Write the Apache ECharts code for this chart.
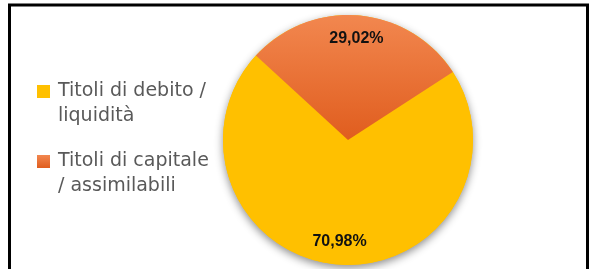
<!DOCTYPE html>
<html lang="it">
<head>
    <meta charset="UTF-8">
    <title>Composizione portafoglio</title>
    <script src="https://cdn.jsdelivr.net/npm/echarts@6/dist/echarts.min.js"></script>
    <style>
        html, body { margin: 0; padding: 0; background: #fff; }
    </style>
</head>
<body>
<div id="main" style="width: 589px;height:269px;"></div>
<script>
    // categorie e percentuali
    var categories = ['Titoli di debito /\nliquidità', 'Titoli di capitale\n/ assimilabili'];
    var values = [70.98, 29.02];
    var colors = ['#FFC000', '#EC7335'];

    var pieCenter = [348, 140];
    var pieR = 125;

    var data = categories.map(function (name, i) {
        return {name: name, value: values[i]};
    });
    var total = values.reduce(function (a, b) { return a + b; }, 0);

    var myChart = echarts.init(document.getElementById('main'));

    option = {
        animation: false,
        legend: {
            orient: 'vertical',
            left: 37,
            top: 54,
            padding: 0,
            icon: 'rect',
            itemWidth: 13,
            itemHeight: 13,
            itemGap: -5,
            selectedMode: false,
            data: categories,
            // riga vuota davanti così il quadratino resta sulla prima riga
            formatter: function (name) {
                return '{e| }\n' + name.split('\n').map(function (s) {
                    return '{t|' + s + '}';
                }).join('\n');
            },
            textStyle: {
                fontFamily: 'DejaVu Sans',
                fontSize: 19,
                color: '#595959',
                lineHeight: 25,
                padding: [0, 0, 0, 3],
                rich: {
                    e: {fontSize: 19, lineHeight: 25},
                    t: {
                        fontFamily: 'DejaVu Sans',
                        fontSize: 19,
                        color: '#595959',
                        lineHeight: 25
                    }
                }
            }
        },
        graphic: [{
            type: 'rect',
            shape: {x: 9.5, y: 5, width: 578, height: 300},
            style: {fill: null, stroke: '#000', lineWidth: 3},
            silent: true
        }],
        series: [
            {
                // ombra sotto la torta
                type: 'pie',
                silent: true,
                center: pieCenter,
                radius: [0, pieR],
                label: {show: false},
                labelLine: {show: false},
                itemStyle: {
                    color: '#FFC000',
                    shadowBlur: 8,
                    shadowOffsetY: 3,
                    shadowColor: 'rgba(0,0,0,0.45)'
                },
                data: [{name: 'ombra', value: total}]
            },
            {
                type: 'pie',
                silent: true,
                center: pieCenter,
                radius: [0, pieR],
                startAngle: 33,
                clockwise: true,
                label: {show: false},
                labelLine: {show: false},
                itemStyle: {borderWidth: 0},
                data: data.map(function (d, i) {
                    var c = colors[i];
                    if (i === 1) {
                        c = new echarts.graphic.LinearGradient(0, 0, 0, 1, [
                            {offset: 0, color: '#F2874F'},
                            {offset: 1, color: '#E05D1E'}
                        ]);
                    }
                    return {name: d.name, value: d.value, itemStyle: {color: c}};
                })
            },
            {
                // etichette percentuali
                type: 'pie',
                silent: true,
                center: pieCenter,
                radius: [pieR * 0.58, pieR],
                startAngle: 33,
                clockwise: true,
                itemStyle: {color: 'rgba(0,0,0,0)'},
                labelLine: {show: false},
                label: {
                    show: true,
                    position: 'inside',
                    fontFamily: 'Liberation Sans',
                    fontWeight: 'bold',
                    fontSize: 16,
                    color: '#111',
                    formatter: function (p) {
                        return p.value.toFixed(2).replace('.', ',') + '%';
                    }
                },
                data: data
            }
        ]
    };

    myChart.setOption(option);
</script>
</body>
</html>
